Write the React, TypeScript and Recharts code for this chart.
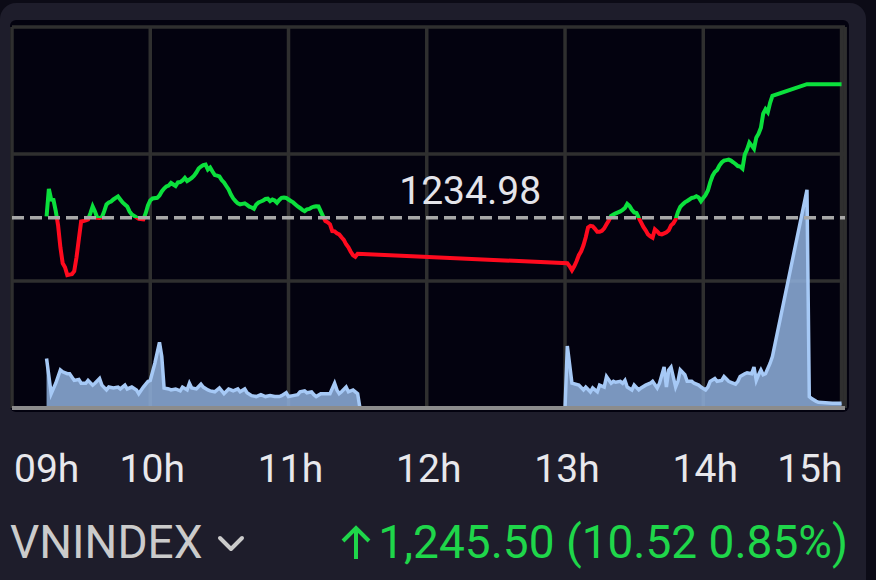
import React from 'react';
import { ComposedChart, Line, Area, XAxis, YAxis, CartesianGrid, ReferenceLine } from 'recharts';

const indexName = 'VNINDEX';
const referencePrice = 1234.98;
const closeText = '1,245.50';
const changeText = '(10.52 0.85%)';

const hourTicks = [0, 60, 120, 180, 240, 300, 360];
const hourLabels = ['09h', '10h', '11h', '12h', '13h', '14h', '15h'];
const priceTicks = [1220, 1230, 1240, 1250];
const sessionEnd = 361.5;

// minutes since 09:00
const priceMinutes = [
  15, 16, 17, 18, 19, 20, 21, 22, 23, 24, 25, 26, 27, 28, 29, 30, 31, 32, 33, 34, 35, 36, 37, 38, 39, 40,
  41, 42, 43, 44, 45, 46, 47, 48, 49, 50, 51, 52, 53, 55, 57, 58, 59, 60, 61, 63, 64, 65, 66, 67, 68, 69,
  70, 71, 72, 73, 74, 75, 76, 77, 78, 79, 80, 81, 82, 83, 84, 85, 86, 87, 88, 89, 90, 91, 92, 93, 94, 95,
  96, 97, 98, 99, 100, 101, 102, 103, 104, 105, 106, 107, 108, 109, 110, 111, 112, 113, 114, 115, 116,
  117, 118, 119, 120, 121, 122, 123, 124, 125, 126, 127, 128, 129, 130, 131, 132, 133, 134, 135, 136,
  137, 138, 139, 140, 141, 142, 143, 144, 145, 146, 147, 148, 149, 150,
  241, 242, 243, 244, 245, 246, 247, 248, 249, 250, 251, 252, 253, 254, 255, 256, 257, 258, 259, 260,
  261, 262, 263, 264, 265, 266, 267, 268, 269, 270, 271, 272, 273, 274, 275, 276, 277, 278, 279, 280,
  281, 282, 283, 284, 285, 286, 287, 288, 289, 290, 291, 292, 293, 294, 295, 296, 297, 298, 299, 300,
  301, 302, 303, 304, 305, 306, 307, 308, 309, 310, 311, 312, 313, 314, 315, 316, 317, 318, 319, 320,
  321, 322, 323, 324, 325, 326, 327, 328, 329, 330, 345, 360,
];
const priceValues = [
  1235.09, 1237.26, 1236.42, 1236.38, 1235.5, 1234.38, 1232.65, 1231.4, 1231.08, 1230.46, 1230.5, 1230.53,
  1230.77, 1231.87, 1233.28, 1234.69, 1234.72, 1234.77, 1234.85, 1235.32, 1235.87, 1235.48, 1234.98, 1234.97,
  1235.01, 1235.48, 1236.03, 1236.19, 1236.26, 1236.42, 1236.54, 1236.66, 1236.42, 1236.19, 1236.03, 1235.87,
  1235.48, 1235.24, 1235.13, 1234.89, 1234.85, 1235.32, 1235.95, 1236.34, 1236.5, 1236.55, 1236.73, 1237.05,
  1237.28, 1237.44, 1237.52, 1237.72, 1237.6, 1237.48, 1237.76, 1237.79, 1237.91, 1238.11, 1237.87, 1237.99,
  1238.12, 1238.3, 1238.54, 1238.85, 1239.01, 1239.13, 1239.17, 1238.78, 1238.93, 1238.62, 1238.34, 1238.3,
  1238.23, 1237.95, 1237.76, 1237.48, 1237.21, 1236.81, 1236.5, 1236.29, 1236.11, 1236.03, 1236.07, 1236.11,
  1235.99, 1235.85, 1235.79, 1235.69, 1236.03, 1236.19, 1236.26, 1236.34, 1236.46, 1236.48, 1236.29, 1236.42,
  1236.34, 1236.16, 1236.38, 1236.55, 1236.58, 1236.54, 1236.42, 1236.3, 1236.19, 1236.03, 1235.87, 1235.75,
  1235.6, 1235.5, 1235.64, 1235.68, 1235.79, 1235.85, 1235.89, 1235.87, 1235.48, 1235.09, 1234.72, 1234.62,
  1234.46, 1233.93, 1233.91, 1233.75, 1233.67, 1233.44, 1233.24, 1232.89, 1232.65, 1232.3, 1232.03, 1231.91,
  1232.14,
  1231.4, 1231.16, 1230.85, 1231.16, 1231.55, 1232.03, 1232.34, 1232.81, 1233.44, 1234.22, 1234.34, 1234.3,
  1234.11, 1233.87, 1233.87, 1233.95, 1234.14, 1234.46, 1234.77, 1235.13, 1235.24, 1235.32, 1235.4, 1235.48,
  1235.6, 1235.75, 1236.07, 1235.91, 1235.6, 1235.4, 1235.36, 1234.97, 1234.62, 1234.26, 1233.99, 1233.67,
  1233.52, 1233.41, 1234.07, 1233.91, 1233.71, 1233.67, 1233.75, 1233.83, 1233.99, 1234.38, 1234.54, 1234.85,
  1235.44, 1235.83, 1236.03, 1236.19, 1236.3, 1236.42, 1236.54, 1236.58, 1236.68, 1236.58, 1236.29, 1236.54,
  1236.77, 1237.13, 1237.76, 1238.27, 1238.58, 1238.74, 1239.09, 1239.33, 1239.48, 1239.52, 1239.56, 1239.48,
  1239.35, 1239.21, 1239.05, 1239.01, 1238.85, 1239.95, 1240.35, 1240.89, 1240.66, 1240.42, 1241.29, 1241.6,
  1242.07, 1243.17, 1243.52, 1243.29, 1244.03, 1244.58, 1245.5, 1245.5,
];

const volumeMinutes = [
  15, 17, 19, 21, 22, 24, 25, 27, 29, 30, 32, 33, 35, 36, 38, 39, 41, 42, 44, 46, 47, 49, 50, 52, 54, 55,
  57, 59, 60, 62, 64, 65, 66, 68, 69, 71, 73, 74, 76, 77, 78, 80, 82, 83, 85, 86, 88, 90, 92, 94, 95, 96,
  98, 99, 101, 102, 104, 106, 108, 110, 112, 114, 116, 117, 119, 120, 122, 124, 125, 127, 128, 130, 131,
  132, 134, 136, 138, 140, 141, 142, 143, 145, 146, 148, 149, 150, 151,
  240, 241, 243, 246, 248, 249, 251, 252, 254, 255, 257, 258, 260, 261, 262, 264, 265, 266, 267, 269, 270,
  272, 273, 275, 277, 278, 280, 281, 283, 284, 285, 286, 288, 289, 290, 292, 293, 295, 296, 298, 299, 301,
  302, 303, 305, 306, 308, 309, 311, 312, 314, 315, 316, 318, 319, 321, 322, 323, 324, 325, 326, 327, 329,
  330, 345, 346, 347, 349, 350, 356, 360,
];
const volumeValues = [
  52, 15, 26, 40, 38, 36, 36, 29, 30, 26, 26, 29, 24, 26, 31, 24, 19, 22, 21, 22, 20, 24, 20, 22, 19, 15,
  22, 28, 29, 47, 69, 54, 21, 20, 19, 20, 18, 22, 19, 26, 21, 20, 25, 22, 19, 18, 17, 21, 15, 20, 19, 18,
  20, 17, 20, 16, 13, 12, 14, 12, 13, 12, 12, 13, 16, 12, 13, 14, 17, 18, 16, 17, 14,
  12, 15, 15, 15, 26, 19, 15, 17, 22, 17, 19, 17, 15, 0,
  0, 65, 26, 24, 19, 22, 17, 21, 17, 24, 22, 33, 26, 28, 27, 28, 26, 29, 22, 19, 24,
  19, 21, 24, 26, 28, 21, 26, 43, 22, 40, 43, 22, 28, 40, 35, 28, 28, 26, 24, 22, 19,
  22, 28, 31, 28, 29, 33, 28, 27, 25, 28, 33, 36, 37, 36, 43, 29, 35, 40, 35, 36, 47,
  54, 229, 12, 10, 7, 6, 5, 5,
];

type Row = { minute: number; price?: number; volume?: number };
const rowMap = new Map<number, Row>();
priceMinutes.forEach((m, i) => {
  const r = rowMap.get(m) || { minute: m };
  r.price = priceValues[i];
  rowMap.set(m, r);
});
volumeMinutes.forEach((m, i) => {
  const r = rowMap.get(m) || { minute: m };
  r.volume = volumeValues[i];
  rowMap.set(m, r);
});
const data = Array.from(rowMap.values()).sort((a, b) => a.minute - b.minute);

const maxPrice = Math.max(...priceValues);
const minPrice = Math.min(...priceValues);
const splitOffset = (maxPrice - referencePrice) / (maxPrice - minPrice);

const FONT = 'Roboto, "Noto Sans", sans-serif';
const GREEN = '#0be03c';
const RED = '#ff0a1e';
const TEXT_GREEN = '#1fd64a';
const GRID = '#2f2f2f';

const HourTick = (props: any) => {
  const { x, y, payload } = props;
  const idx = hourTicks.indexOf(payload.value);
  const label = hourLabels[idx] ?? '';
  let anchor: 'start' | 'middle' | 'end' = 'middle';
  let tx = x + 2;
  if (idx === 0) {
    anchor = 'start';
    tx = x + 2;
  } else if (idx === hourTicks.length - 1) {
    anchor = 'end';
    tx = x + 1;
  }
  return (
    <text x={tx} y={y} dy={74} textAnchor={anchor} fill="#e8e8ec" fontSize={39} fontFamily={FONT}>
      {label}
    </text>
  );
};

const RefLabel = (props: any) => {
  const vb = props.viewBox || {};
  return (
    <text
      x={vb.x + vb.width * 0.55}
      y={vb.y - 14}
      textAnchor="middle"
      fill="#e4e4ea"
      fontSize={39}
      fontFamily={FONT}
    >
      {String(referencePrice)}
    </text>
  );
};

export default function App() {
  return (
    <div style={{ position: 'absolute', left: 0, top: 0, width: 876, height: 580, background: '#0c0b16', overflow: 'hidden' }}>
      <div style={{ position: 'absolute', left: 0, top: 3, width: 866, height: 600, background: '#1e1d2b', borderRadius: 16 }} />
      <div style={{ position: 'absolute', left: 10, top: 20, width: 839, height: 392, background: '#03020f', borderRadius: 6 }} />
      <div style={{ position: 'absolute', left: 0, top: 0 }}>
        <ComposedChart width={876} height={580} data={data} margin={{ top: 27, right: 31, bottom: 92, left: 12 }}>
          <defs>
            <linearGradient id="priceSplit" x1="0" y1="0" x2="0" y2="1">
              <stop offset={splitOffset} stopColor={GREEN} />
              <stop offset={splitOffset} stopColor={RED} />
            </linearGradient>
          </defs>
          <CartesianGrid stroke={GRID} strokeWidth={3.5} />
          <XAxis
            type="number"
            dataKey="minute"
            domain={[0, sessionEnd]}
            ticks={hourTicks}
            interval={0}
            height={80}
            tickSize={0}
            tickMargin={0}
            tickLine={false}
            axisLine={{ stroke: '#8c8c8c', strokeWidth: 4 }}
            tick={<HourTick />}
            allowDataOverflow
          />
          <YAxis hide domain={[1220, 1250]} ticks={priceTicks} allowDataOverflow />
          <YAxis yAxisId="vol" hide domain={[0, 400]} allowDataOverflow />
          <ReferenceLine x={sessionEnd} stroke={GRID} strokeWidth={3.5} />
          <Area
            yAxisId="vol"
            type="linear"
            dataKey="volume"
            stroke="#a6c9f6"
            strokeWidth={3.5}
            fill="#8fb0dd"
            fillOpacity={0.85}
            connectNulls
            isAnimationActive={false}
            dot={false}
            activeDot={false}
          />
          <Line
            type="linear"
            dataKey="price"
            stroke="url(#priceSplit)"
            strokeWidth={4}
            dot={false}
            activeDot={false}
            connectNulls
            isAnimationActive={false}
          />
          <ReferenceLine
            y={referencePrice}
            stroke="#a8a8a8"
            strokeWidth={3.5}
            strokeDasharray="12 6"
            label={<RefLabel />}
          />
        </ComposedChart>
      </div>
      <svg width={876} height={580} style={{ position: 'absolute', left: 0, top: 0, pointerEvents: 'none' }}>
        <text x={10} y={558} fill="#cbcbcb" fontSize={46} fontFamily={FONT}>
          {indexName}
        </text>
        <polyline points="220,538 231,549 242,538" fill="none" stroke="#cbcbcb" strokeWidth={4} strokeLinecap="round" strokeLinejoin="round" />
        <line x1={356} y1={559} x2={356} y2={528} stroke={TEXT_GREEN} strokeWidth={4} />
        <polyline points="343,541 356,528 369,541" fill="none" stroke={TEXT_GREEN} strokeWidth={4} strokeLinejoin="miter" />
        <text x={848} y={558} textAnchor="end" fill={TEXT_GREEN} fontSize={46} fontFamily={FONT}>
          {closeText + ' ' + changeText}
        </text>
      </svg>
    </div>
  );
}
